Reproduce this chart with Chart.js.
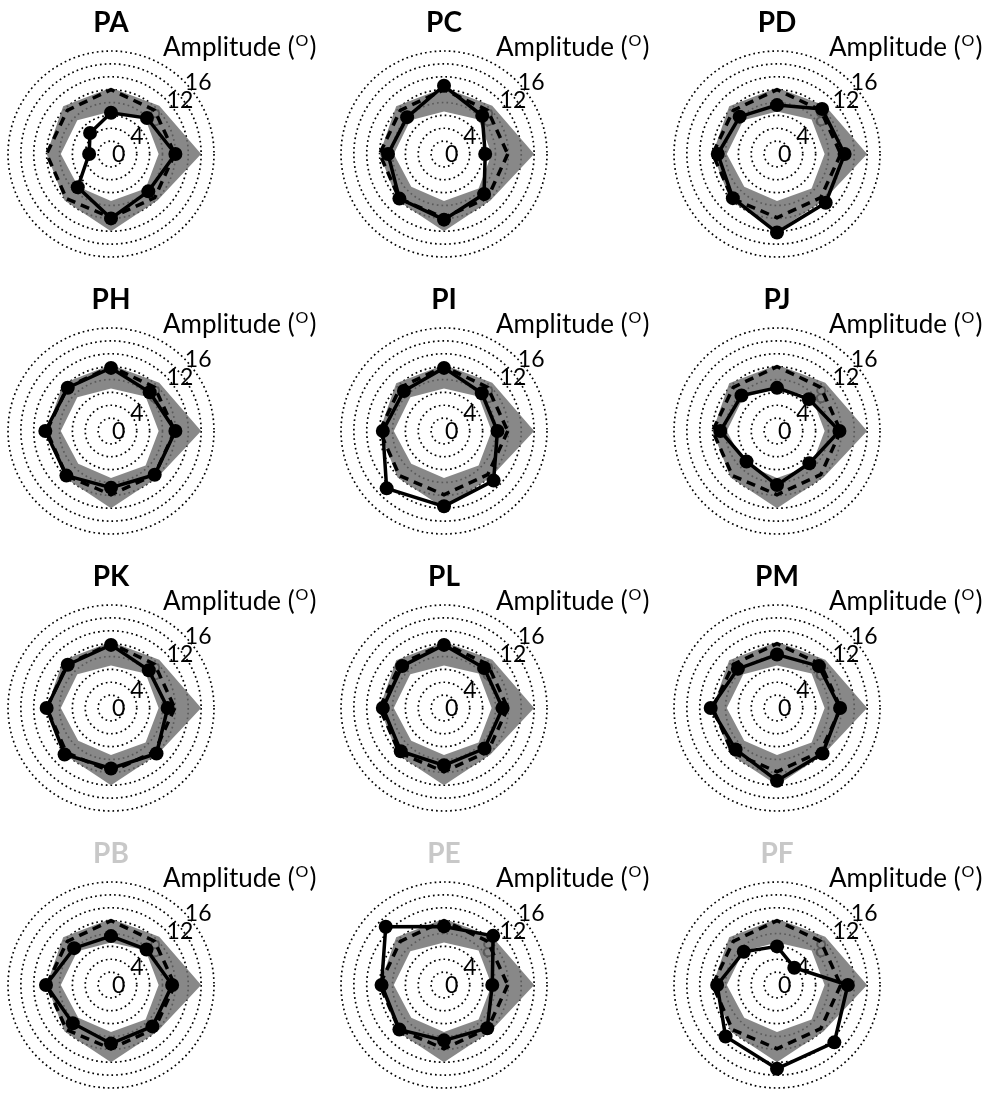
<!DOCTYPE html>
<html>
<head>
<meta charset="utf-8">
<script src="https://cdn.jsdelivr.net/npm/chart.js@4.4.1/dist/chart.umd.min.js"></script>
<style>
  body { margin: 0; background: #fff; overflow: hidden; }
  #grid { position: relative; width: 995px; height: 1093px; }
  #grid canvas { position: absolute; }
</style>
</head>
<body>
<div id="grid"></div>
<script>
// Directions in degrees, clockwise from the right (chart.js order when startAngle = 90)
const directions = ['0', '315', '270', '225', '180', '135', '90', '45'];
const tickValues = [0, 4, 8, 12, 16];

// Normative data (same in every panel)
const normUpper = [14.0, 10.2, 12.0, 10.2, 10.0, 10.5, 10.3, 10.6];
const normLower = [7.4, 7.6, 7.3, 7.2, 7.8, 7.4, 6.6, 7.6];
const normMean = [9.9, 9.6, 9.9, 9.8, 10.0, 9.6, 10.0, 9.6];

// Amplitude per participant
const PA = [10.0, 8.2, 10.0, 7.3, 3.4, 4.6, 6.4, 7.9];
const PC = [6.4, 8.8, 10.2, 9.8, 8.7, 8.1, 10.6, 8.4];
const PD = [10.5, 10.7, 12.2, 9.7, 9.2, 8.2, 7.6, 9.9];
const PH = [10.0, 9.6, 8.8, 9.8, 10.2, 9.5, 9.8, 8.5];
const PI = [8.3, 10.9, 11.7, 12.6, 9.5, 8.8, 9.8, 8.3];
const PJ = [9.7, 7.1, 8.4, 6.7, 8.8, 7.8, 6.7, 7.0];
const PK = [8.8, 10.0, 9.4, 10.2, 10.0, 9.5, 9.8, 8.3];
const PL = [9.1, 8.9, 8.9, 9.5, 9.5, 9.2, 9.8, 8.8];
const PM = [9.8, 10.0, 11.3, 9.1, 10.3, 8.6, 8.3, 9.2];
const PB = [9.5, 9.1, 9.1, 8.4, 10.1, 8.1, 7.6, 7.8];
const PE = [7.5, 9.5, 8.6, 9.8, 9.7, 12.8, 9.1, 10.8];
const PF = [11.0, 12.6, 13.0, 11.3, 9.3, 7.3, 6.0, 3.8];

const panelNames = ['PA', 'PC', 'PD', 'PH', 'PI', 'PJ', 'PK', 'PL', 'PM', 'PB', 'PE', 'PF'];
const panelValues = [PA, PC, PD, PH, PI, PJ, PK, PL, PM, PB, PE, PF];
const greyedPanels = ['PB', 'PE', 'PF'];

const FONT = 'Lato, "Open Sans", sans-serif';

// Tick labels go under the data, along the 45 degree ray
const tickLabelPlugin = {
    id: 'tickLabels',
    beforeDatasetsDraw(chart) {
        const r = chart.scales.r;
        const ctx = chart.ctx;
        ctx.save();
        ctx.font = '23px ' + FONT;
        ctx.fillStyle = '#000';
        ctx.textAlign = 'left';
        ctx.textBaseline = 'middle';
        tickValues.forEach(v => {
            const d = r.getDistanceFromCenterForValue(v);
            ctx.fillText(String(v), r.xCenter + d * Math.SQRT1_2 + 1, r.yCenter - d * Math.SQRT1_2 + 1);
        });
        ctx.restore();
    }
};

// Panel title and axis caption
const captionPlugin = {
    id: 'captions',
    afterDraw(chart) {
        const r = chart.scales.r;
        const ctx = chart.ctx;
        const name = chart.options.plugins.captions.name;
        ctx.save();
        ctx.textBaseline = 'middle';
        ctx.textAlign = 'center';
        ctx.font = 'bold 28px ' + FONT;
        ctx.fillStyle = greyedPanels.includes(name) ? '#c8c8c8' : '#000';
        ctx.fillText(name, r.xCenter, r.yCenter - 131);

        ctx.fillStyle = '#000';
        ctx.textAlign = 'left';
        ctx.font = '26px ' + FONT;
        let x = r.xCenter + 52;
        const y = r.yCenter - 106;
        ctx.fillText('Amplitude (', x, y);
        x += ctx.measureText('Amplitude (').width;
        ctx.font = '16px ' + FONT;
        ctx.fillText('O', x + 1, y - 7);
        x += ctx.measureText('O').width + 2;
        ctx.font = '26px ' + FONT;
        ctx.fillText(')', x, y);
        ctx.restore();
    }
};

function renderPanel(index) {
    const col = index % 3;
    const row = Math.floor(index / 3);
    const canvas = document.createElement('canvas');
    canvas.width = 333;
    canvas.height = 277;
    canvas.style.left = (col * 333) + 'px';
    canvas.style.top = (row * 277) + 'px';
    document.getElementById('grid').appendChild(canvas);

    new Chart(canvas.getContext('2d'), {
        type: 'radar',
        data: {
            labels: directions,
            datasets: [
                {
                    label: 'Normal range',
                    data: normUpper,
                    borderWidth: 0,
                    pointRadius: 0,
                    backgroundColor: 'rgba(110, 110, 110, 0.82)',
                    fill: 1,
                    order: 2
                },
                {
                    label: 'lower',
                    data: normLower,
                    borderWidth: 0,
                    pointRadius: 0,
                    fill: false,
                    order: 3
                },
                {
                    label: 'Mean',
                    data: normMean,
                    borderColor: '#000',
                    borderWidth: 3.5,
                    borderDash: [9, 6],
                    pointRadius: 0,
                    fill: false,
                    order: 1
                },
                {
                    label: panelNames[index],
                    data: panelValues[index],
                    borderColor: '#000',
                    borderWidth: 3.5,
                    pointRadius: 7,
                    pointBackgroundColor: '#000',
                    pointBorderWidth: 0,
                    fill: false,
                    order: 0
                }
            ]
        },
        options: {
            responsive: false,
            animation: false,
            layout: {
                padding: { left: 8, top: 51, right: 119, bottom: 20 }
            },
            elements: { line: { tension: 0 } },
            scales: {
                r: {
                    min: 0,
                    max: 16,
                    startAngle: 90,
                    ticks: { display: false, stepSize: 2 },
                    pointLabels: { display: false },
                    angleLines: { display: false },
                    grid: { circular: true, color: '#000', lineWidth: 1.7 },
                    border: { dash: [1.7, 3.1] }
                }
            },
            plugins: {
                legend: { display: false },
                tooltip: { enabled: false },
                captions: { name: panelNames[index] }
            }
        },
        plugins: [tickLabelPlugin, captionPlugin]
    });
}

panelNames.forEach((name, i) => renderPanel(i));
</script>
</body>
</html>
